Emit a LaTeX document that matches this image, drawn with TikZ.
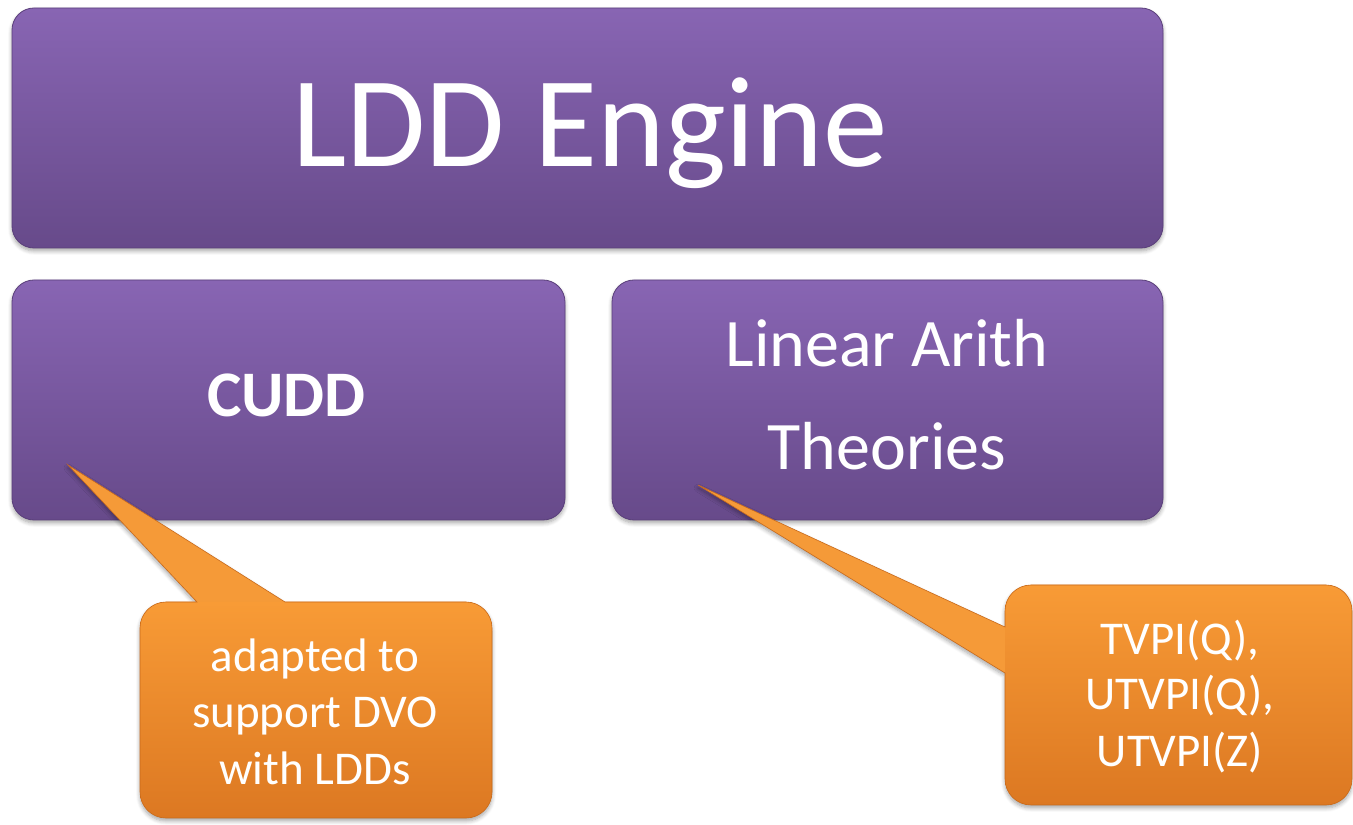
\documentclass[tikz,border=0pt]{standalone}
\usepackage{fontspec}
\setmainfont{Carlito}
\usetikzlibrary{shadows.blur}
\definecolor{purpTop}{HTML}{8865B3}
\definecolor{purpBot}{HTML}{674A8A}
\definecolor{purpEdge}{HTML}{5A3F7A}
\definecolor{orTop}{HTML}{F89B36}
\definecolor{orMid}{HTML}{F59A38}
\definecolor{orBot}{HTML}{DC7822}
\definecolor{orEdge}{HTML}{C86A1C}
\begin{document}
\begin{tikzpicture}[x=1pt,y=1pt,
  softshadow/.style={blur shadow={shadow xshift=0pt,shadow yshift=-3pt,shadow blur radius=4pt,shadow blur steps=6,shadow opacity=35}},
  purplebox/.style={rectangle,rounded corners=22pt,top color=purpTop,bottom color=purpBot,draw=purpEdge,line width=0.8pt,softshadow,inner sep=0pt},
  orangebox/.style={rectangle,rounded corners=26pt,top color=orTop,bottom color=orBot,inner sep=0pt},
  calloutbg/.style={fill=orMid,softshadow},
  calloutedge/.style={draw=orEdge,line width=0.6pt},
  whitetext/.style={text=white,inner sep=0pt,anchor=base}]
\useasboundingbox (0,0) rectangle (1353,825);
% purple boxes
\node[purplebox,minimum width=1151pt,minimum height=240pt] (engine) at (587.5,697) {};
\node[purplebox,minimum width=553pt,minimum height=240pt] (cudd) at (288.5,425) {};
\node[purplebox,minimum width=551pt,minimum height=240pt] (lin) at (887.5,425) {};
% texts in purple boxes
\node[whitetext,font=\fontsize{129}{155}\selectfont] (engt) at (590,658) {LDD Engine};
\node[whitetext,font=\bfseries\fontsize{65}{78}\selectfont] (cuddt) at (286.5,408) {CUDD};
\node[whitetext,font=\fontsize{68}{82}\selectfont] (lint1) at (887,458) {Linear Arith};
\node[whitetext,font=\fontsize{68}{82}\selectfont] (lint2) at (887,355) {Theories};
% callout anchor points
\coordinate (tipA) at (68,360);
\coordinate (baseA1) at (197,223);
\coordinate (baseA2) at (285,223);
\coordinate (tipB) at (698,340);
\coordinate (baseB1) at (1005,198);
\coordinate (baseB2) at (1005,152);
% callout A: union outline (box + pointer)
\path[calloutbg] (tipA) -- (baseA2) [rounded corners=26pt] -- (492,223) -- (492,7) -- (140,7) -- (140,223) [sharp corners] -- (baseA1) -- cycle;
\node[orangebox,minimum width=352pt,minimum height=216pt] (calA) at (316,115) {};
\path[calloutedge] (tipA) -- (baseA2) [rounded corners=26pt] -- (492,223) -- (492,7) -- (140,7) -- (140,223) [sharp corners] -- (baseA1) -- cycle;
% callout B: union outline (box + pointer)
\path[calloutbg] (tipB) -- (baseB1) [rounded corners=26pt] -- (1005,240) -- (1352,240) -- (1352,20) -- (1005,20) [sharp corners] -- (baseB2) -- cycle;
\node[orangebox,minimum width=347pt,minimum height=220pt] (calB) at (1178.5,130) {};
\path[calloutedge] (tipB) -- (baseB1) [rounded corners=26pt] -- (1005,240) -- (1352,240) -- (1352,20) -- (1005,20) [sharp corners] -- (baseB2) -- cycle;
% callout texts
\node[whitetext,font=\fontsize{47}{57}\selectfont] (a1) at (315,153) {adapted to};
\node[whitetext,font=\fontsize{47}{57}\selectfont] (a2) at (315,97) {support DVO};
\node[whitetext,font=\fontsize{47}{57}\selectfont] (a3) at (315,40) {with LDDs};
\node[whitetext,font=\fontsize{47}{57}\selectfont] (b1) at (1180,170) {TVPI(Q),};
\node[whitetext,font=\fontsize{47}{57}\selectfont] (b2) at (1180,115) {UTVPI(Q),};
\node[whitetext,font=\fontsize{47}{57}\selectfont] (b3) at (1180,58) {UTVPI(Z)};
\end{tikzpicture}
\end{document}
